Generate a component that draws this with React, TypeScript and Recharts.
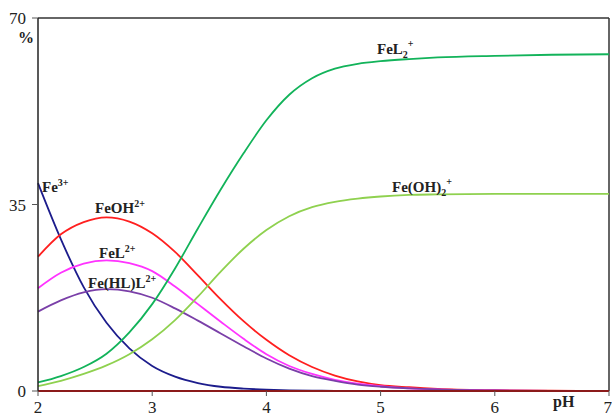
import { LineChart, Line, XAxis, YAxis, ReferenceLine } from 'recharts';

const PH = [2, 2.2, 2.4, 2.6, 2.8, 3, 3.2, 3.4, 3.6, 3.8, 4, 4.2, 4.4, 4.6, 4.8, 5, 5.25, 5.5, 6, 6.5, 7];

const FE3 = [39, 28.5, 19.5, 12.8, 8.0, 4.7, 2.7, 1.5, 0.8, 0.45, 0.25, 0.13, 0.07, 0.04, 0.02, 0.01, 0, 0, 0, 0, 0];
const FEOH = [25.2, 29.4, 31.7, 32.6, 31.8, 29.6, 26.1, 21.7, 17.2, 13.1, 9.6, 6.7, 4.5, 2.9, 1.8, 1.1, 0.7, 0.4, 0.15, 0.05, 0.02];
const FEL = [19.3, 22.2, 23.9, 24.5, 24.0, 22.5, 19.6, 16.3, 13.0, 9.8, 6.9, 4.7, 3.2, 2.1, 1.4, 0.9, 0.5, 0.3, 0.1, 0.03, 0];
const FEHLL = [14.9, 17.0, 18.5, 19.1, 18.7, 17.5, 15.5, 13.2, 10.8, 8.4, 6.1, 4.2, 2.8, 1.9, 1.2, 0.8, 0.5, 0.3, 0.1, 0.03, 0];
const FEL2 = [1.6, 2.8, 4.5, 7.0, 11.0, 16.3, 23.0, 30.5, 37.8, 44.6, 50.8, 55.6, 58.7, 60.5, 61.4, 61.9, 62.3, 62.6, 62.9, 63.1, 63.2];
const FEOH2 = [0.9, 1.9, 3.2, 4.8, 6.9, 9.7, 13.3, 17.7, 22.4, 26.7, 30.2, 32.8, 34.5, 35.5, 36.1, 36.5, 36.8, 36.9, 37, 37, 37];

const X_TICKS = [2, 3, 4, 5, 6, 7];
const Y_TICKS = [0, 35, 70];

const data = PH.map((ph, i) => ({
  ph,
  fe3: FE3[i],
  feoh: FEOH[i],
  fel: FEL[i],
  fehll: FEHLL[i],
  fel2: FEL2[i],
  feoh2: FEOH2[i],
}));

const serif = '"Liberation Serif", "Times New Roman", serif';

export default function App() {
  return (
    <div style={{ position: 'absolute', left: 0, top: 0, width: 612, height: 413, background: '#fff' }}>
      <LineChart width={612} height={413} data={data} margin={{ top: 18, right: 3, bottom: 0, left: 0 }}>
        <XAxis
          dataKey="ph"
          type="number"
          domain={[2, 7]}
          ticks={X_TICKS}
          height={22}
          axisLine={{ stroke: '#8B1A1A', strokeWidth: 2 }}
          tickLine={{ stroke: '#555' }}
          tickSize={5}
          tickMargin={5}
          tick={{ fill: '#222', fontSize: 17, style: { fontFamily: serif } }}
        />
        <YAxis
          type="number"
          domain={[0, 70]}
          ticks={Y_TICKS}
          width={38}
          axisLine={{ stroke: '#222', strokeWidth: 1.5 }}
          tickLine={{ stroke: '#555' }}
          tickSize={6}
          tickMargin={6}
          tick={{ fill: '#222', fontSize: 17, style: { fontFamily: serif } }}
        />
        <ReferenceLine y={70} stroke="#333" strokeWidth={1.5} />
        <ReferenceLine x={7} stroke="#333" strokeWidth={1.5} />
        <Line type="monotone" dataKey="fe3" stroke="#1C1C8C" strokeWidth={1.8} dot={false} isAnimationActive={false} />
        <Line type="monotone" dataKey="feoh" stroke="#FF1F1F" strokeWidth={1.8} dot={false} isAnimationActive={false} />
        <Line type="monotone" dataKey="fel" stroke="#FF33FF" strokeWidth={1.8} dot={false} isAnimationActive={false} />
        <Line type="monotone" dataKey="fehll" stroke="#7A3FA8" strokeWidth={1.8} dot={false} isAnimationActive={false} />
        <Line type="monotone" dataKey="fel2" stroke="#12B35A" strokeWidth={1.8} dot={false} isAnimationActive={false} />
        <Line type="monotone" dataKey="feoh2" stroke="#8FD14F" strokeWidth={1.8} dot={false} isAnimationActive={false} />
      </LineChart>
      <svg
        width={612}
        height={413}
        style={{ position: 'absolute', left: 0, top: 0, pointerEvents: 'none', fontFamily: serif }}
        fontWeight="bold"
        fill="#222"
      >
        <text x={18} y={43} fontSize={16}>%</text>
        <text x={553} y={407} fontSize={16}>pH</text>
        <text x={42} y={192} fontSize={15}>
          Fe<tspan fontSize={10} dy={-6}>3+</tspan>
        </text>
        <text x={95} y={213} fontSize={15}>
          FeOH<tspan fontSize={10} dy={-6}>2+</tspan>
        </text>
        <text x={99} y={258} fontSize={15}>
          FeL<tspan fontSize={10} dy={-6}>2+</tspan>
        </text>
        <text x={88} y={288} fontSize={15}>
          Fe(HL)L<tspan fontSize={10} dy={-6}>2+</tspan>
        </text>
        <text x={377} y={54} fontSize={15}>
          FeL<tspan fontSize={10} dy={4}>2</tspan>
          <tspan fontSize={10} dy={-11}>+</tspan>
        </text>
        <text x={392} y={192} fontSize={15}>
          Fe(OH)<tspan fontSize={10} dy={4}>2</tspan>
          <tspan fontSize={10} dy={-11}>+</tspan>
        </text>
      </svg>
    </div>
  );
}
